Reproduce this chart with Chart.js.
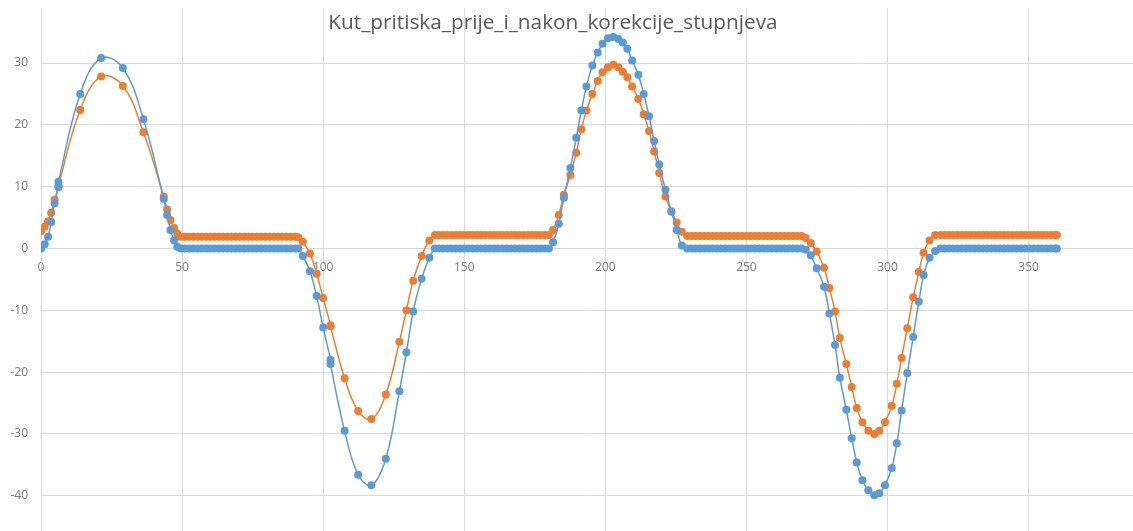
<!DOCTYPE html>
<html>
<head>
<meta charset="utf-8">
<script src="https://cdn.jsdelivr.net/npm/chart.js@4/dist/chart.umd.min.js"></script>
<style>
  html, body { margin: 0; padding: 0; background: #fff; }
  #wrap { position: relative; width: 1133px; height: 531px; }
  #naslov {
    position: absolute; left: 0; top: 7px; width: 1106px; text-align: center;
    font-family: "Open Sans", sans-serif; font-size: 20.8px; color: #595959;
    pointer-events: none; z-index: 2;
  }
</style>
</head>
<body>
<div id="wrap">
  <div id="naslov">Kut_pritiska_prije_i_nakon_korekcije_stupnjeva</div>
  <canvas id="graf" width="1133" height="531"></canvas>
</div>
<script>
// kut zakretanja (x), po segmentima: podizanje, mirovanje, spustanje, mirovanje, podizanje, mirovanje, spustanje, mirovanje
var kut = [
  0, 1.3, 2.5, 3.6, 4.8, 6.2, 6.2, 13.9, 21.3, 29.0, 36.3, 43.5, 44.7, 45.9, 47.2, 48.3,
  49.5, 51, 52.5, 54, 55.5, 57, 58.5, 60, 61.5, 63, 64.5, 66, 67.5, 69, 70.5, 72, 73.5, 75, 76.5, 78, 79.5, 81, 82.5, 84, 85.5, 87, 88.5, 90, 91.2,
  92.8, 95.3, 97.7, 100.0, 102.6, 102.6, 107.6, 112.4, 117.1, 122.2, 127.0, 129.5, 131.9, 134.9, 137.6, 139.6,
  141, 142.5, 144, 145.5, 147, 148.5, 150, 151.5, 153, 154.5, 156, 157.5, 159, 160.5, 162, 163.5, 165, 166.5, 168, 169.5, 171, 172.5, 174, 175.5, 177, 178.5, 180,
  181.5, 183.5, 185.3, 187.6, 189.7, 191.5, 193.3, 195.4, 197.3, 199.0, 200.9, 202.8, 204.6, 206.2, 207.8, 209.5, 211.7, 213.6, 215.5, 217.3, 219.1, 221.3, 223.4, 225.3, 227.1,
  229, 230.5, 232, 233.5, 235, 236.5, 238, 239.5, 241, 242.5, 244, 245.5, 247, 248.5, 250, 251.5, 253, 254.5, 256, 257.5, 259, 260.5, 262, 263.5, 265, 266.5, 268, 269.5, 271,
  272.8, 274.9, 277.5, 279.4, 281.4, 283.1, 285.4, 287.3, 289.1, 291.1, 293.2, 295.3, 297.1, 299.1, 301.5, 303.3, 305.0, 307.0, 309.1, 311.1, 312.8, 314.9, 316.9,
  318.8, 320.3, 321.8, 323.3, 324.8, 326.3, 327.8, 329.3, 330.8, 332.3, 333.8, 335.3, 336.8, 338.3, 339.8, 341.3, 342.8, 344.3, 345.8, 347.3, 348.8, 350.3, 351.8, 353.3, 354.8, 356.3, 357.8, 359.3, 360.0
];

// kut pritiska prije korekcije (plava)
var prije = [
  0, 0.7, 1.9, 4.3, 7.3, 10.0, 10.8, 25.0, 30.8, 29.2, 20.9, 8.0, 5.4, 3.0, 1.3, 0.3,
  0, 0, 0, 0, 0, 0, 0, 0, 0, 0, 0, 0, 0, 0, 0, 0, 0, 0, 0, 0, 0, 0, 0, 0, 0, 0, 0, 0, 0,
  -1.2, -3.7, -7.7, -12.8, -18.0, -18.7, -29.5, -36.6, -38.3, -34.0, -23.1, -16.8, -10.2, -4.9, -1.5, 0,
  0, 0, 0, 0, 0, 0, 0, 0, 0, 0, 0, 0, 0, 0, 0, 0, 0, 0, 0, 0, 0, 0, 0, 0, 0, 0, 0,
  1.0, 4.0, 8.2, 13.0, 17.9, 22.3, 26.2, 29.6, 31.7, 33.1, 34.0, 34.2, 33.9, 33.3, 32.3, 30.4, 28.1, 25.0, 21.4, 17.4, 13.6, 9.5, 6.0, 3.0, 0.5,
  0, 0, 0, 0, 0, 0, 0, 0, 0, 0, 0, 0, 0, 0, 0, 0, 0, 0, 0, 0, 0, 0, 0, 0, 0, 0, 0, 0, -0.2,
  -1.1, -3.2, -6.2, -10.5, -15.6, -20.9, -26.1, -30.7, -34.6, -37.5, -39.1, -39.9, -39.6, -38.3, -35.5, -31.5, -26.2, -20.2, -14.3, -8.6, -4.3, -1.5, -0.4,
  0, 0, 0, 0, 0, 0, 0, 0, 0, 0, 0, 0, 0, 0, 0, 0, 0, 0, 0, 0, 0, 0, 0, 0, 0, 0, 0, 0, 0
];

// kut pritiska nakon korekcije (narancasta)
var nakon = [
  2.8, 3.5, 4.4, 5.8, 7.9, 9.9, 10.2, 22.4, 27.8, 26.3, 18.8, 8.4, 6.3, 4.6, 3.3, 2.4,
  1.9, 1.9, 1.9, 1.9, 1.9, 1.9, 1.9, 1.9, 1.9, 1.9, 1.9, 1.9, 1.9, 1.9, 1.9, 1.9, 1.9, 1.9, 1.9, 1.9, 1.9, 1.9, 1.9, 1.9, 1.9, 1.9, 1.9, 1.9, 1.8,
  1.1, -0.8, -4.1, -8.0, -12.4, -12.6, -21.0, -26.3, -27.6, -23.6, -15.1, -10.0, -5.2, -1.2, 1.3, 2.2,
  2.2, 2.2, 2.2, 2.2, 2.2, 2.2, 2.2, 2.2, 2.2, 2.2, 2.2, 2.2, 2.2, 2.2, 2.2, 2.2, 2.2, 2.2, 2.2, 2.2, 2.2, 2.2, 2.2, 2.2, 2.2, 2.2, 2.2,
  3.0, 5.4, 8.7, 11.9, 15.5, 19.3, 22.3, 25.0, 27.1, 28.5, 29.3, 29.7, 29.3, 28.6, 27.7, 26.2, 24.2, 21.7, 19.0, 15.7, 12.2, 8.4, 6.0, 4.2, 2.7,
  2.0, 2.0, 2.0, 2.0, 2.0, 2.0, 2.0, 2.0, 2.0, 2.0, 2.0, 2.0, 2.0, 2.0, 2.0, 2.0, 2.0, 2.0, 2.0, 2.0, 2.0, 2.0, 2.0, 2.0, 2.0, 2.0, 2.0, 2.0, 1.7,
  0.9, -0.5, -3.1, -6.4, -10.2, -14.5, -18.7, -22.4, -25.8, -28.1, -29.5, -30.0, -29.5, -28.1, -25.5, -21.9, -17.7, -12.9, -7.9, -3.8, -0.7, 1.3, 2.2,
  2.2, 2.2, 2.2, 2.2, 2.2, 2.2, 2.2, 2.2, 2.2, 2.2, 2.2, 2.2, 2.2, 2.2, 2.2, 2.2, 2.2, 2.2, 2.2, 2.2, 2.2, 2.2, 2.2, 2.2, 2.2, 2.2, 2.2, 2.2, 2.2
];

var xTicks = [0, 50, 100, 150, 200, 250, 300, 350];
var yTicks = [-40, -30, -20, -10, 0, 10, 20, 30];

(function () {
    'use strict';

    var plava = '#5B9BD5';
    var narancasta = '#ED7D31';
    var mreza = '#D9D9D9';
    var tekst = '#7A7A7A';

    function tocke(ys) {
        return kut.map(function (x, i) { return { x: x, y: ys[i] }; });
    }

    function serija(ys, boja) {
        return {
            data: tocke(ys), showLine: true, borderColor: boja, backgroundColor: boja,
            borderWidth: 1.5, tension: 0.4, pointRadius: 4, pointBorderWidth: 0,
            pointBackgroundColor: boja
        };
    }

    // os bez rezerviranog prostora oko oznaka
    function bezPaddinga(s) {
        s.paddingTop = 0; s.paddingBottom = 0; s.paddingLeft = 0; s.paddingRight = 0;
    }

    Chart.defaults.font.family = '"Open Sans", sans-serif';

    new Chart(document.getElementById('graf'), {
        type: 'scatter',
        data: { datasets: [serija(prije, plava), serija(nakon, narancasta)] },
        options: {
            responsive: false, animation: false, devicePixelRatio: 1,
            layout: { autoPadding: false, padding: { top: 8, left: 0, right: 0, bottom: 0 } },
            plugins: { legend: { display: false }, tooltip: { enabled: false }, title: { display: false } },
            scales: {
                x: {
                    type: 'linear', position: { y: 0 }, min: 0, max: 387.0,
                    afterFit: function (s) { s.height = 0; bezPaddinga(s); },
                    afterBuildTicks: function (s) { s.ticks = xTicks.map(function (v) { return { value: v }; }); },
                    grid: { color: mreza, lineWidth: 1, drawTicks: false },
                    border: { color: mreza },
                    ticks: { color: tekst, font: { size: 12 }, padding: 12, maxRotation: 0, autoSkip: false }
                },
                y: {
                    type: 'linear', min: -45.7, max: 38.9,
                    afterFit: function (s) { s.width = 41; bezPaddinga(s); },
                    afterBuildTicks: function (s) { s.ticks = yTicks.map(function (v) { return { value: v }; }); },
                    grid: { color: mreza, lineWidth: 1, drawTicks: false },
                    border: { color: mreza },
                    ticks: { color: tekst, font: { size: 12 }, padding: 13 }
                }
            }
        }
    });
})();
</script>
</body>
</html>
